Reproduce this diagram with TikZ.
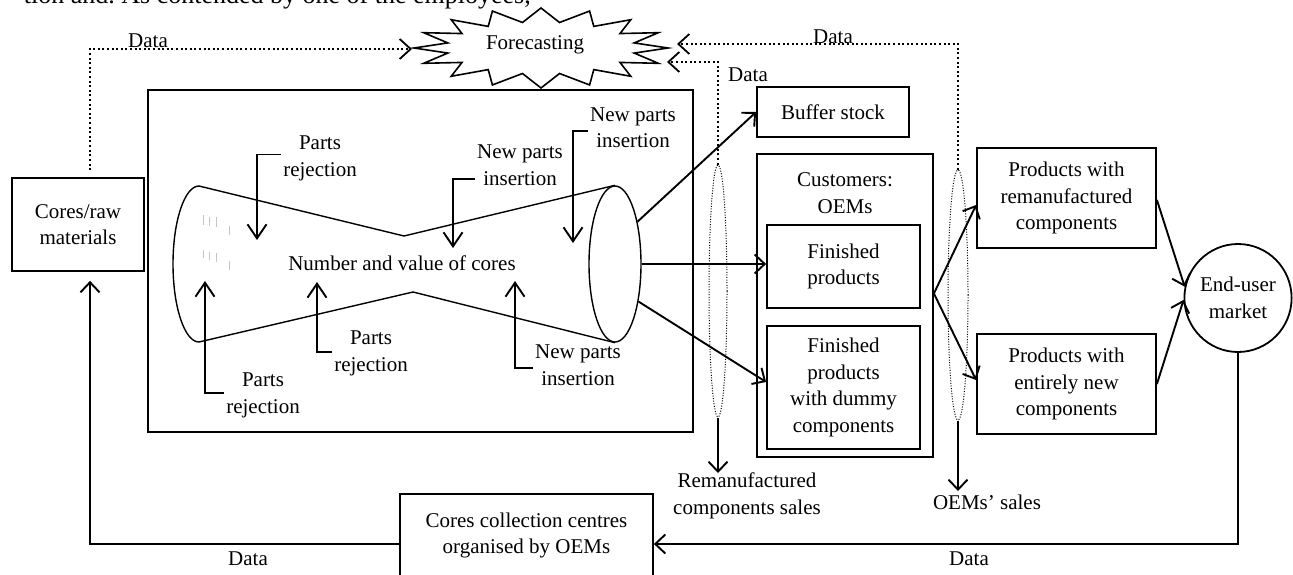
\documentclass[tikz,border=0pt]{standalone}
\usepackage{fontspec}
\setmainfont{Liberation Serif}
\usetikzlibrary{arrows.meta,shapes.geometric,calc}
\begin{document}
\begin{tikzpicture}[x=1pt,y=-1pt,
  every node/.style={font=\fontsize{21}{26.5}\selectfont, align=center, inner sep=2pt},
  box/.style={draw, line width=1.8pt, inner sep=0pt},
  arr/.style={line width=1.9pt, -{Straight Barb[length=10pt,width=19pt,line width=1.9pt]}},
  barr/.style={line width=1.9pt, -{Straight Barb[length=14pt,width=19pt,line width=1.9pt]}},
  dotarr/.style={line width=2pt, dash pattern=on 2pt off 2.6pt, -{Straight Barb[length=11pt,width=20pt,line width=1.8pt]}},
  ring/.style={draw, ellipse, line width=1pt, dash pattern=on 1pt off 1.6pt, inner sep=0pt},
  funnel/.style={line width=1.4pt},
  graytick/.style={gray!45, line width=0.9pt}
]
\useasboundingbox (0,0) rectangle (1293,575);
\clip (0,0) rectangle (1293,575);

% running text of the page above the figure
\node[anchor=base east, inner sep=0pt, font=\fontsize{26}{30}\selectfont] (para) at (531,4)
  {tion and.\ As contended by one of the employees,};

% forecasting star
\coordinate (fcc) at (541,48);
\draw[line width=1.6pt] ([shift={(541,48)}]0:127pt and 40pt)
  \foreach \i [evaluate=\i as \a using \i*11.25,
               evaluate=\i as \rx using {ifthenelse(mod(\i,2)==0,127,95)},
               evaluate=\i as \ry using {ifthenelse(mod(\i,2)==0,40,26)}] in {1,...,31}
  { -- ([shift={(541,48)}]\a:\rx pt and \ry pt) } -- cycle;
\node (fc) at (535,45) {Forecasting};
\coordinate (fcL) at (412,49);
\coordinate (fcR1) at (677,44);
\coordinate (fcR2) at (667,62);

% left side
\node[box, minimum width=132pt, minimum height=93pt] (cores) at (78,224.5) {Cores/raw\\materials};
\node[box, minimum width=545pt, minimum height=342pt] (proc) at (420.5,261) {};

% the funnel of cores
\draw[funnel] (199,186) arc[start angle=90, end angle=270, x radius=26pt, y radius=78pt];
\node[draw, ellipse, funnel, minimum width=52pt, minimum height=156pt, inner sep=0pt] (rend) at (615,264) {};
\draw[funnel] (199,186) -- (404,236) -- (rend.north);
\draw[funnel] (199,342) -- (413,292) -- (rend.south);
\node (nv) at (402,263) {Number and value of cores};

% faint marks at the wide end
\draw[graytick] (203,215) -- (203,225) (209,217) -- (209,226) (216,217) -- (216,227) (229,226) -- (229,235);
\draw[graytick] (203,250) -- (203,258) (209,252) -- (209,260) (216,253) -- (216,262) (229,261) -- (229,270);

% rejections and insertions
\coordinate (t1) at (257,240);
\coordinate (t2) at (205,281);
\coordinate (t3) at (317,282);
\coordinate (t4) at (453,248);
\coordinate (t5) at (573,243);
\coordinate (t6) at (515,281);
\node (pr1) at (320,158.5) {Parts\\rejection};
\node (pr2) at (263,395.5) {Parts\\rejection};
\node (pr3) at (371,353.5) {Parts\\rejection};
\node (np1) at (520,165) {New parts\\insertion};
\node (np2) at (633,127.5) {New parts\\insertion};
\node (np3) at (578,365) {New parts\\insertion};
\draw[barr] ([yshift=4pt]pr1.west) -| (t1);
\draw[barr] ([yshift=2.5pt]pr2.west) -| (t2);
\draw[barr] ([yshift=1.5pt]pr3.west) -| (t3);
\draw[barr] ([yshift=-14pt]np1.west) -| (t4);
\draw[barr] ([yshift=-3.5pt]np2.west) -| (t5);
\draw[barr] ([yshift=-3pt]np3.west) -| (t6);

% customers and products
\node[box, minimum width=152pt, minimum height=50pt] (buf) at (833,112) {Buffer stock};
\node[box, minimum width=176pt, minimum height=303pt] (cust) at (845,305.5) {};
\node (custl) at (845,193) {Customers:\\OEMs};
\node[box, minimum width=153pt, minimum height=83pt] (fin) at (843.5,266.5) {Finished\\products};
\node[box, minimum width=153pt, minimum height=123pt] (dum) at (843.5,387.5) {Finished\\products\\with dummy\\components};
\node[box, minimum width=179pt, minimum height=100pt] (prr) at (1066.5,198) {Products with\\remanufactured\\components};
\node[box, minimum width=179pt, minimum height=100pt] (pen) at (1066.5,384) {Products with\\entirely new\\components};
\node[draw, ellipse, line width=1.8pt, minimum width=96pt, minimum height=108pt, inner sep=0pt] (end) at (1238,298) {End-user\\market};
\node[box, minimum width=253pt, minimum height=100pt] (ccc) at (526.5,544) {};
\node (ccct) at (526.5,535.5) {Cores collection centres\\organised by OEMs};

% sales groupings
\node[ring, minimum width=18pt, minimum height=252pt] (ring1) at (718,291) {};
\node[ring, minimum width=20pt, minimum height=250pt] (ring2) at (958,295) {};
\coordinate (remtip) at (718,473);
\coordinate (oemtip) at (958,491);
\node (rem) at (747,496) {Remanufactured\\components sales};
\node (oems) at (987,502) {OEMs’ sales};

% material flows
\draw[arr] (rend.62) -- (buf.west);
\draw[arr] (rend.east) -- (rend.east -| fin.west);
\draw[arr] (rend.-58) -- ([yshift=5.5pt]dum.west);
\draw[arr] ([yshift=12pt]cust.east) -- ([yshift=-7pt]prr.west);
\draw[arr] ([yshift=12pt]cust.east) -- ([yshift=4pt]pen.west);
\draw[arr] ([yshift=-2pt]prr.east) -- (end.168);
\draw[arr] (pen.east) -- (end.182);
\draw[arr] (end.south) |- (ccc.east);
\draw[arr, shorten >=9pt] (ccc.west) -| ([xshift=12pt]cores.south);
\draw[arr] (ring1.south) -- (remtip);
\draw[arr] (ring2.south) -- (oemtip);

% information flows
\draw[dotarr, shorten <=7pt] ([xshift=12pt]cores.north) |- (fcL);
\draw[dotarr] (ring2.north) |- (fcR1);
\draw[dotarr] (ring1.north) |- (fcR2);

% data labels
\node (d1) at (148,41) {Data};
\node (d2) at (833,37) {Data};
\node (d3) at (748,75) {Data};
\node (d4) at (248,559) {Data};
\node (d5) at (969,559) {Data};
\end{tikzpicture}
\end{document}
